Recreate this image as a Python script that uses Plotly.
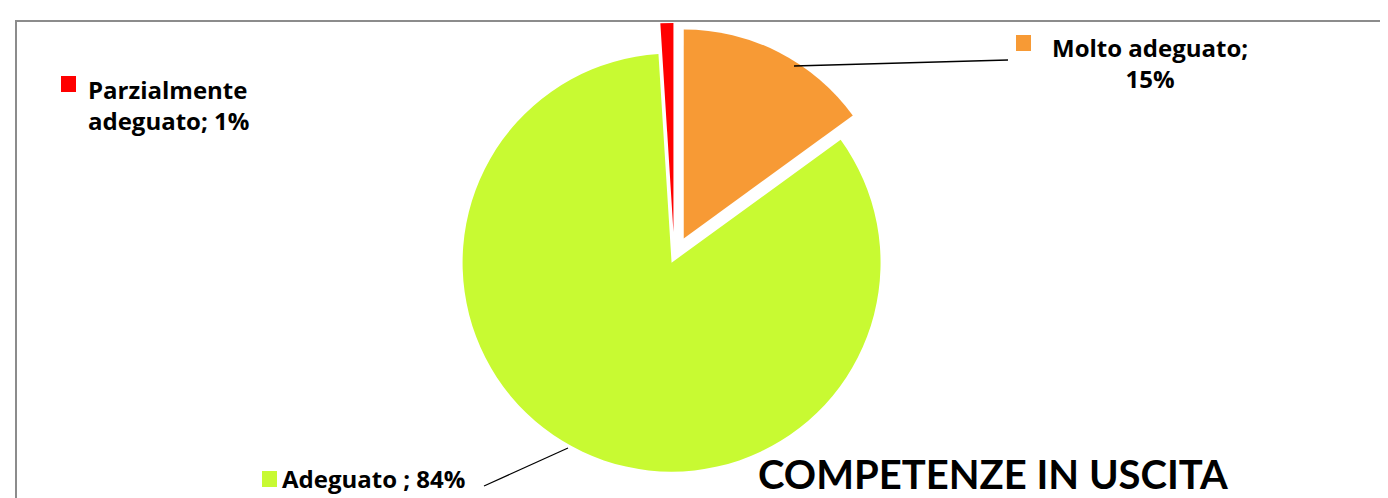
import plotly.graph_objects as go

categories = ["Molto adeguato", "Adeguato ", "Parzialmente adeguato"]
values = [15, 84, 1]
colors = ["#F79A35", "#C8FA32", "#FF0000"]
pulls = [0.10, 0.03, 0.12]
title_text = "COMPETENZE IN USCITA"

W, H = 1388, 498
FONT = "Open Sans"

def px(x):
    return x / W

def py(y):
    return 1 - y / H

fig = go.Figure()
fig.add_trace(go.Pie(
    labels=categories, values=values, sort=False, direction="clockwise",
    rotation=0, pull=pulls, marker=dict(colors=colors, line=dict(color="white", width=0)),
    textinfo="none", hoverinfo="label+percent", showlegend=False,
    domain=dict(x=[0.30, 0.66], y=[0.03, 0.97]),
))

annots = [
    dict(x=px(78), y=py(97), xanchor="left", yanchor="middle", align="left",
         text=f"<b>Parzialmente</b><br><b>adeguato; {values[2]}%</b>"),
    dict(x=px(1142), y=py(55), xanchor="center", yanchor="middle", align="center",
         text=f"<b>Molto adeguato;</b><br><b>{values[0]}%</b>"),
    dict(x=px(272), y=py(470), xanchor="left", yanchor="middle", align="left",
         text=f"<b>{categories[1].strip()} ; {values[1]}%</b>"),
]
for a in annots:
    a.update(xref="paper", yref="paper", showarrow=False,
             font=dict(family=FONT, size=24, color="black"))
    fig.add_annotation(**a)

# label colour keys
for ci, (x0, y0) in zip([2, 0, 1], [(53, 68), (1008, 27), (254, 463)]):
    fig.add_shape(type="rect", xref="paper", yref="paper",
                  x0=px(x0), x1=px(x0 + 15), y0=py(y0 + 16), y1=py(y0),
                  fillcolor=colors[ci], line=dict(width=0))

# leader lines
fig.add_shape(type="line", xref="paper", yref="paper",
              x0=px(786), y0=py(58), x1=px(1000), y1=py(52),
              line=dict(color="black", width=1.5))
fig.add_shape(type="line", xref="paper", yref="paper",
              x0=px(476), y0=py(478), x1=px(560), y1=py(440),
              line=dict(color="black", width=1.2))

# title
fig.add_annotation(x=px(985), y=py(466), xref="paper", yref="paper",
                   xanchor="center", yanchor="middle", showarrow=False,
                   text=f"<b>{title_text}</b>",
                   font=dict(family="Lato", size=40, color="black"))

# chart border
fig.add_shape(type="rect", xref="paper", yref="paper",
              x0=px(8), y0=-0.05, x1=1.05, y1=py(13),
              line=dict(color="#8C8C8C", width=2))

fig.update_layout(
    width=W, height=H, margin=dict(l=0, r=0, t=0, b=0),
    paper_bgcolor="white", plot_bgcolor="white",
)
fig.write_html("out.html")
